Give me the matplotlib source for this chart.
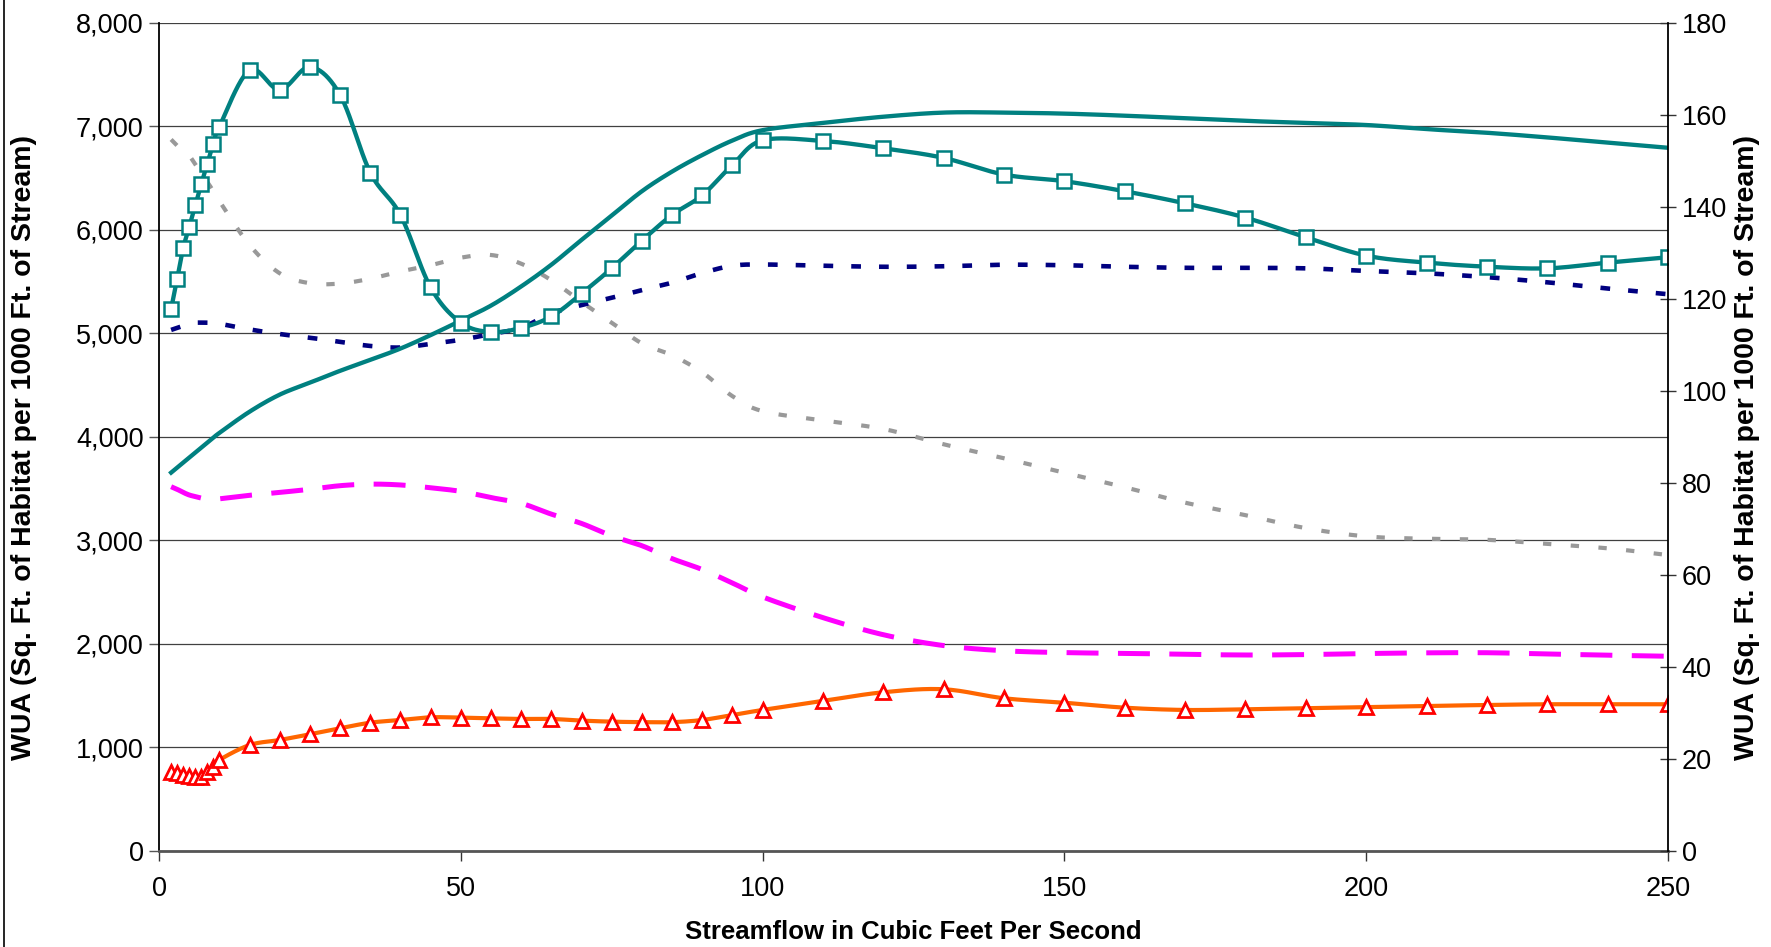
import numpy as np
import matplotlib
matplotlib.use("Agg")
import matplotlib.pyplot as plt
from matplotlib.ticker import FuncFormatter
from matplotlib.lines import Line2D

# ---------------- data ----------------
flow_cfs = [2, 3, 4, 5, 6, 7, 8, 9, 10,
            15, 20, 25, 30, 35, 40, 45, 50, 55, 60, 65, 70, 75, 80, 85, 90, 95, 100,
            110, 120, 130, 140, 150, 160, 170, 180, 190, 200, 210, 220, 230, 240, 250]

wua_squares = [5232, 5522, 5819, 6025, 6234, 6440, 6637, 6830, 6994,
               7540, 7350, 7570, 7300, 6550, 6140, 5440, 5100, 5010, 5050, 5160, 5380, 5626, 5893, 6141, 6331, 6624, 6862,
               6856, 6785, 6692, 6531, 6467, 6370, 6253, 6115, 5925, 5748, 5680, 5641, 5625, 5680, 5732]

wua_teal_line = [3651, 3700, 3748, 3796, 3844, 3892, 3940, 3988, 4035,
                 4240, 4405, 4520, 4635, 4740, 4850, 4980, 5120, 5265, 5450, 5660, 5900, 6135, 6370, 6560, 6720, 6860, 6960,
                 7030, 7090, 7130, 7130, 7120, 7100, 7075, 7050, 7030, 7010, 6970, 6935, 6890, 6840, 6790]

wua_navy = [5030, 5050, 5070, 5090, 5100, 5100, 5100, 5095, 5090,
            5035, 4990, 4955, 4915, 4875, 4860, 4895, 4935, 4990, 5050, 5190, 5270, 5340, 5415, 5487, 5580, 5650, 5662,
            5650, 5640, 5645, 5660, 5655, 5640, 5630, 5630, 5625, 5600, 5577, 5540, 5490, 5430, 5375]

wua_gray = [6870, 6810, 6765, 6715, 6630, 6545, 6460, 6370, 6275,
            5850, 5577, 5481, 5478, 5525, 5595, 5655, 5728, 5754, 5670, 5510, 5300, 5100, 4900, 4785, 4620, 4390, 4245,
            4155, 4073, 3925, 3790, 3650, 3510, 3361, 3240, 3115, 3035, 3012, 3002, 2962, 2920, 2855]

wua_magenta = [3515, 3490, 3460, 3435, 3420, 3405, 3400, 3396, 3398,
               3432, 3460, 3490, 3525, 3540, 3532, 3505, 3470, 3410, 3355, 3250, 3160, 3040, 2945, 2820, 2715, 2585, 2450,
               2250, 2085, 1980, 1930, 1912, 1905, 1896, 1889, 1893, 1903, 1910, 1911, 1899, 1887, 1877]

wua_triangles = [760, 745, 730, 720, 713, 713, 760, 810, 875,
                 1019, 1068, 1123, 1181, 1235, 1261, 1287, 1284, 1277, 1271, 1271, 1255, 1245, 1240, 1240, 1261, 1309, 1358,
                 1445, 1529, 1558, 1471, 1428, 1380, 1358, 1364, 1374, 1384, 1396, 1406, 1413, 1413, 1413]

left_ticks = [0, 1000, 2000, 3000, 4000, 5000, 6000, 7000, 8000]
right_ticks = [0, 20, 40, 60, 80, 100, 120, 140, 160, 180]
x_ticks = [0, 50, 100, 150, 200, 250]

x_label = "Streamflow in Cubic Feet Per Second"
y_label = "WUA (Sq. Ft. of Habitat per 1000 Ft. of Stream)"


def smooth(x, y, n=24):
    """Excel-like smoothed line (Catmull-Rom Bezier)."""
    p = np.column_stack([np.asarray(x, float), np.asarray(y, float)])
    m = len(p)
    out = [p[0:1]]
    t = np.linspace(0, 1, n)[1:, None]
    for i in range(m - 1):
        p0 = p[i - 1] if i > 0 else p[i]
        p1 = p[i]
        p2 = p[i + 1]
        p3 = p[i + 2] if i + 2 < m else p[i + 1]
        c1 = p1 + (p2 - p0) / 6.0
        c2 = p2 - (p3 - p1) / 6.0
        seg = ((1 - t) ** 3) * p1 + 3 * ((1 - t) ** 2) * t * c1 + 3 * (1 - t) * t ** 2 * c2 + t ** 3 * p2
        out.append(seg)
    s = np.vstack(out)
    return s[:, 0], s[:, 1]


plt.rcParams['font.family'] = ['Liberation Sans', 'DejaVu Sans']
plt.rcParams['lines.scale_dashes'] = False

fig = plt.figure(figsize=(17.71, 9.47), dpi=100)
ax = fig.add_axes([0.0898, 0.1019, 0.8520, 0.8743])
ax2 = ax.twinx()

teal = '#008080'
navy = '#000080'
gray = '#999999'
magenta = '#FF00FF'
orange = '#FF6600'
red = '#FF0000'

# gray dotted
sx, sy = smooth(flow_cfs, wua_gray)
ax.plot(sx, sy, color=gray, lw=3.0, dashes=(6, 14), dash_capstyle='butt', zorder=3)
# navy dotted
sx, sy = smooth(flow_cfs, wua_navy)
ax.plot(sx, sy, color=navy, lw=3.3, dashes=(7, 13), dash_capstyle='butt', zorder=3)
# magenta dashed
sx, sy = smooth(flow_cfs, wua_magenta)
ax.plot(sx, sy, color=magenta, lw=3.6, dashes=(23, 14), dash_capstyle='butt', zorder=3)
# orange with triangles
sx, sy = smooth(flow_cfs, wua_triangles)
ax.plot(sx, sy, color=orange, lw=3.0, zorder=4)
ax.plot(flow_cfs, wua_triangles, linestyle='none', marker='^', markersize=10.5,
        markerfacecolor='white', markeredgecolor=red, markeredgewidth=2.0, zorder=5)
# teal solid
sx, sy = smooth(flow_cfs, wua_teal_line)
ax.plot(sx, sy, color=teal, lw=3.1, zorder=4)
# teal with squares
sx, sy = smooth(flow_cfs, wua_squares)
ax.plot(sx, sy, color=teal, lw=3.1, zorder=5)
ax.plot(flow_cfs, wua_squares, linestyle='none', marker='s', markersize=10.5,
        markerfacecolor='white', markeredgecolor=teal, markeredgewidth=1.8, zorder=6)

# axes
ax.set_xlim(0, 250)
ax.set_ylim(0, 8000)
ax2.set_ylim(0, 180)
ax.set_xticks(x_ticks)
ax.set_yticks(left_ticks)
ax2.set_yticks(right_ticks)
ax.yaxis.set_major_formatter(FuncFormatter(lambda v, p: f"{int(v):,}"))

ax.grid(axis='y', color='#404040', lw=0.9, zorder=1)
ax.set_axisbelow(True)

for a in (ax, ax2):
    a.spines['top'].set_visible(False)
ax.spines['left'].set_color('black')
ax.spines['left'].set_linewidth(1.3)
ax2.spines['right'].set_color('black')
ax2.spines['right'].set_linewidth(1.3)
ax2.spines['left'].set_visible(False)
ax2.spines['bottom'].set_visible(False)
ax.spines['right'].set_visible(False)
ax.spines['bottom'].set_color('#555555')
ax.spines['bottom'].set_linewidth(2.0)

ax.tick_params(axis='y', direction='out', length=7, width=1, color='#555555', labelsize=19.5, pad=4)
ax.tick_params(axis='x', direction='out', length=7, width=1, color='#333333', labelsize=19.5, pad=11)
ax2.tick_params(axis='y', direction='inout', length=12, width=1, color='#333333', labelsize=19.5, pad=4)

ax.set_xlabel(x_label, fontsize=18.5, fontweight='bold', labelpad=13)
ax.set_ylabel(y_label, fontsize=20.5, fontweight='bold')
ax2.set_ylabel(y_label, fontsize=20.5, fontweight='bold')
ax.yaxis.set_label_coords(-0.081, 0.487)
ax2.yaxis.set_label_coords(1.044, 0.487)

# figure border at left edge
fig.add_artist(Line2D([0.0025, 0.0025], [0, 1], transform=fig.transFigure, color='black', lw=1.2))

fig.savefig('out.png', dpi=100)
